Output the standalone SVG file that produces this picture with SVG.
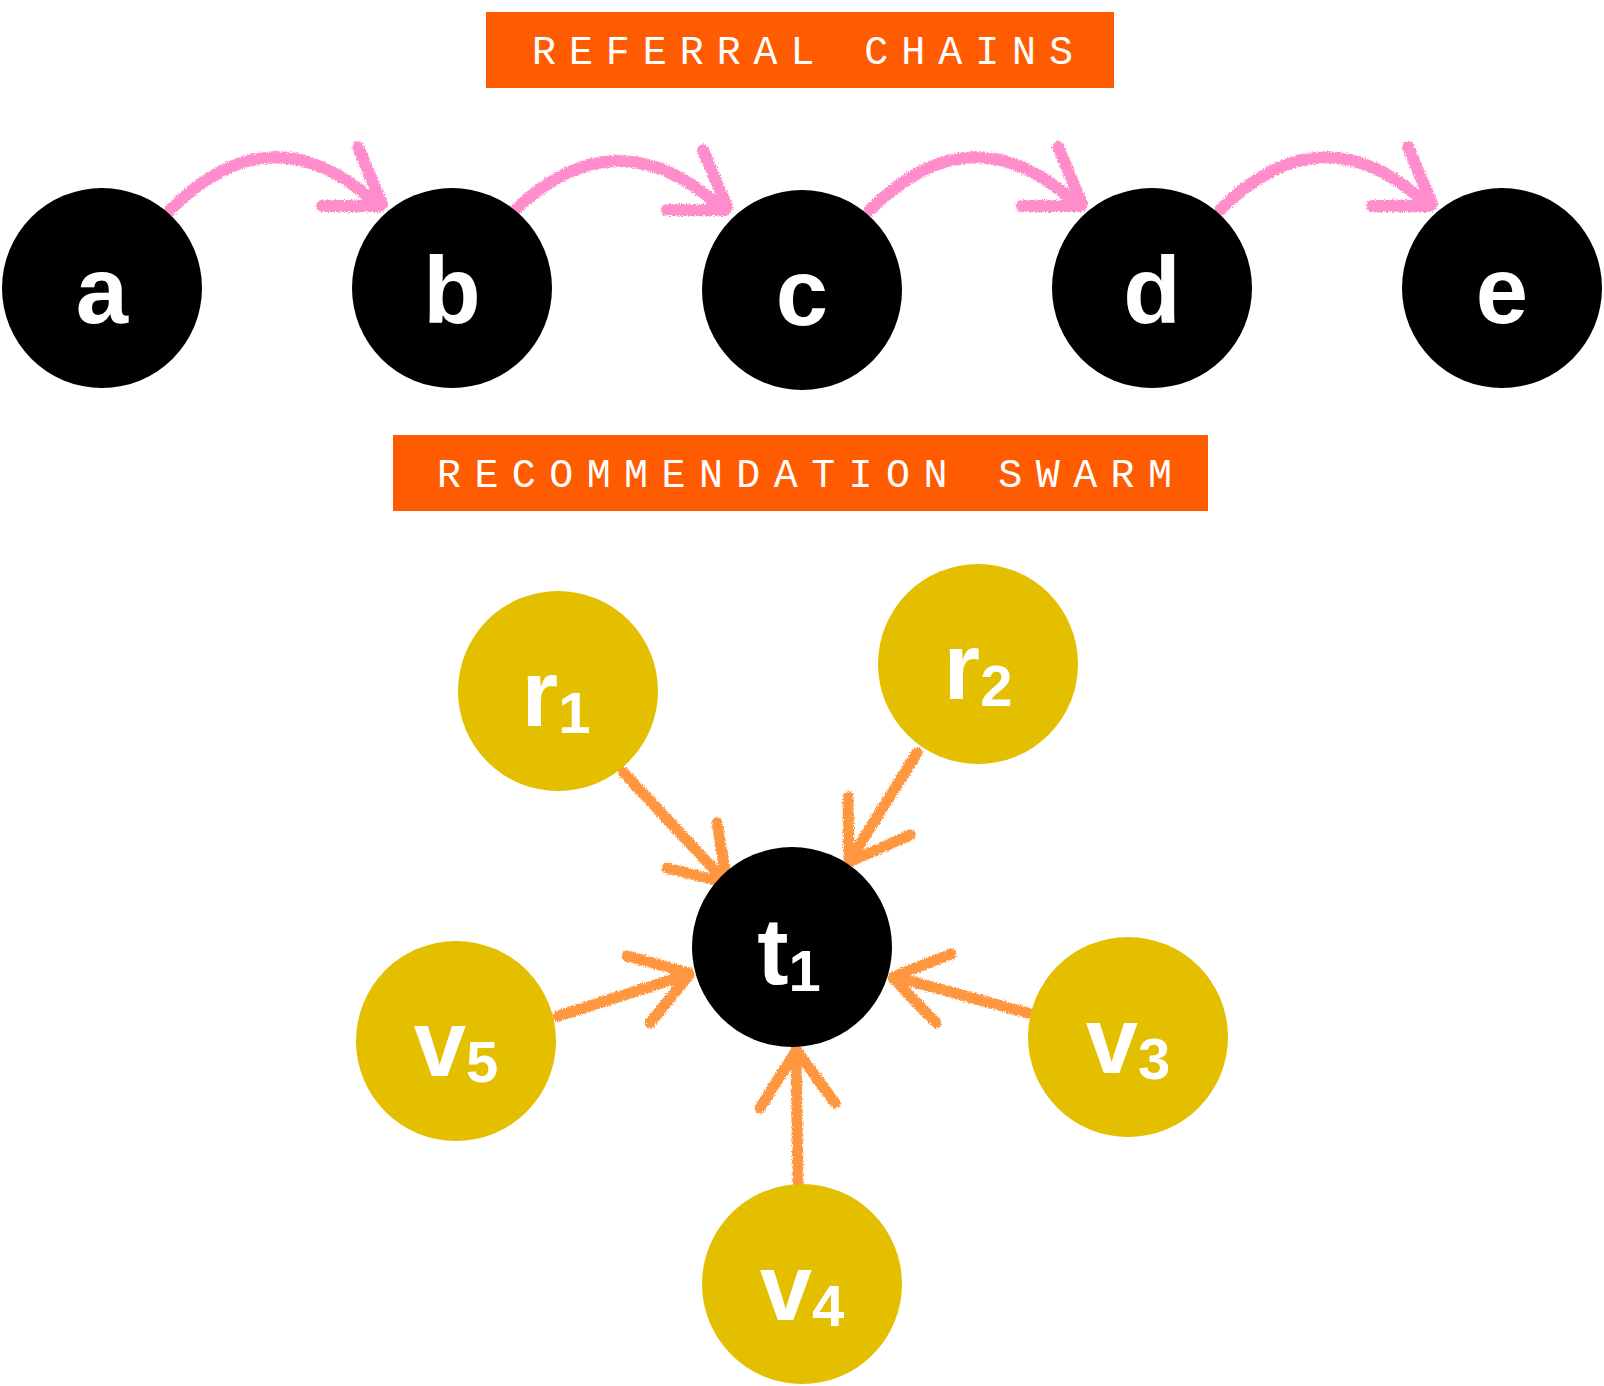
<svg xmlns="http://www.w3.org/2000/svg" width="1604" height="1386" viewBox="0 0 1604 1386">
<style>
.banner{fill:#FF5B00}
.btext{font-family:"Liberation Mono","DejaVu Sans Mono",monospace;font-size:40px;fill:#fff}
.dark{fill:#000}
.gold{fill:#E3BF00}
.lbl{font-family:"Liberation Sans",Arial,sans-serif;font-weight:bold;font-size:94px;fill:#fff;text-anchor:middle}
.sub{font-size:58px}
.pink{fill:none;stroke:#FF8DCB;stroke-width:12;stroke-linecap:round;stroke-linejoin:round}
.orng{fill:none;stroke:#FF9640;stroke-width:11;stroke-linecap:round;stroke-linejoin:round}
</style>
<defs>
<filter id="crayon" filterUnits="userSpaceOnUse" x="0" y="0" width="1604" height="1386">
<feTurbulence type="fractalNoise" baseFrequency="0.9" numOctaves="2" seed="3" result="n"/>
<feDisplacementMap in="SourceGraphic" in2="n" scale="5" xChannelSelector="R" yChannelSelector="G"/>
</filter>
</defs>
<rect width="1604" height="1386" fill="#fff"/>

<g id="title-referral">
<rect class="banner" x="486" y="12" width="628" height="76"/>
<text class="btext" x="532" y="64" textLength="541" lengthAdjust="spacing">REFERRAL CHAINS</text>
</g>
<g id="title-swarm">
<rect class="banner" x="393" y="435" width="815" height="76"/>
<text class="btext" x="437" y="487" textLength="735" lengthAdjust="spacing">RECOMMENDATION SWARM</text>
</g>

<g id="connectors" filter="url(#crayon)">
<g id="e-a-b" class="pink">
<path d="M170,210 Q270,110 372,200"/><path d="M358,147 L382,204"/><path d="M322,206 L380,206"/>
</g>
<g id="e-b-c" class="pink" transform="translate(345,0)">
<path d="M170,210 Q270,115 372,204"/><path d="M358,150 L382,207"/><path d="M322,210 L380,210"/>
</g>
<g id="e-c-d" class="pink" transform="translate(700,0)">
<path d="M170,210 Q270,110 372,200"/><path d="M358,147 L382,204"/><path d="M322,206 L380,206"/>
</g>
<g id="e-d-e" class="pink" transform="translate(1050,0)">
<path d="M170,210 Q270,110 372,200"/><path d="M358,147 L382,204"/><path d="M322,206 L380,206"/>
</g>
<g id="e-r1-t1" class="orng">
<path d="M623,772 L725,881"/><path d="M717,823 L727,883"/><path d="M667,868 L727,883"/>
</g>
<g id="e-r2-t1" class="orng">
<path d="M917,753 L850,860"/><path d="M848,797 L849,862"/><path d="M910,835 L849,862"/>
</g>
<g id="e-v5-t1" class="orng">
<path d="M558,1016 L687,975"/><path d="M627,956 L689,973"/><path d="M650,1023 L689,975"/>
</g>
<g id="e-v3-t1" class="orng">
<path d="M1028,1013 L895,977"/><path d="M951,954 L893,977"/><path d="M936,1023 L894,979"/>
</g>
<g id="e-v4-t1" class="orng">
<path d="M798,1182 L796,1054"/><path d="M760,1108 L796,1051"/><path d="M835,1103 L797,1051"/>
</g>
</g>

<g id="node-a"><circle class="dark" cx="102" cy="288" r="100"/><text class="lbl" x="102" y="323">a</text></g>
<g id="node-b"><circle class="dark" cx="452" cy="288" r="100"/><text class="lbl" x="452" y="323">b</text></g>
<g id="node-c"><circle class="dark" cx="802" cy="290" r="100"/><text class="lbl" x="802" y="325">c</text></g>
<g id="node-d"><circle class="dark" cx="1152" cy="288" r="100"/><text class="lbl" x="1152" y="323">d</text></g>
<g id="node-e"><circle class="dark" cx="1502" cy="288" r="100"/><text class="lbl" x="1502" y="323">e</text></g>

<g id="node-r1"><circle class="gold" cx="558" cy="691" r="100"/><text class="lbl" x="556" y="726">r<tspan class="sub" dy="7">1</tspan></text></g>
<g id="node-r2"><circle class="gold" cx="978" cy="664" r="100"/><text class="lbl" x="978" y="699">r<tspan class="sub" dy="7">2</tspan></text></g>
<g id="node-t1"><circle class="dark" cx="792" cy="947" r="100"/><text class="lbl" x="789" y="984">t<tspan class="sub" dy="7">1</tspan></text></g>
<g id="node-v5"><circle class="gold" cx="456" cy="1041" r="100"/><text class="lbl" x="456" y="1076">v<tspan class="sub" dy="6">5</tspan></text></g>
<g id="node-v3"><circle class="gold" cx="1128" cy="1037" r="100"/><text class="lbl" x="1128" y="1073">v<tspan class="sub" dy="6">3</tspan></text></g>
<g id="node-v4"><circle class="gold" cx="802" cy="1284" r="100"/><text class="lbl" x="802" y="1320">v<tspan class="sub" dy="6">4</tspan></text></g>
</svg>
